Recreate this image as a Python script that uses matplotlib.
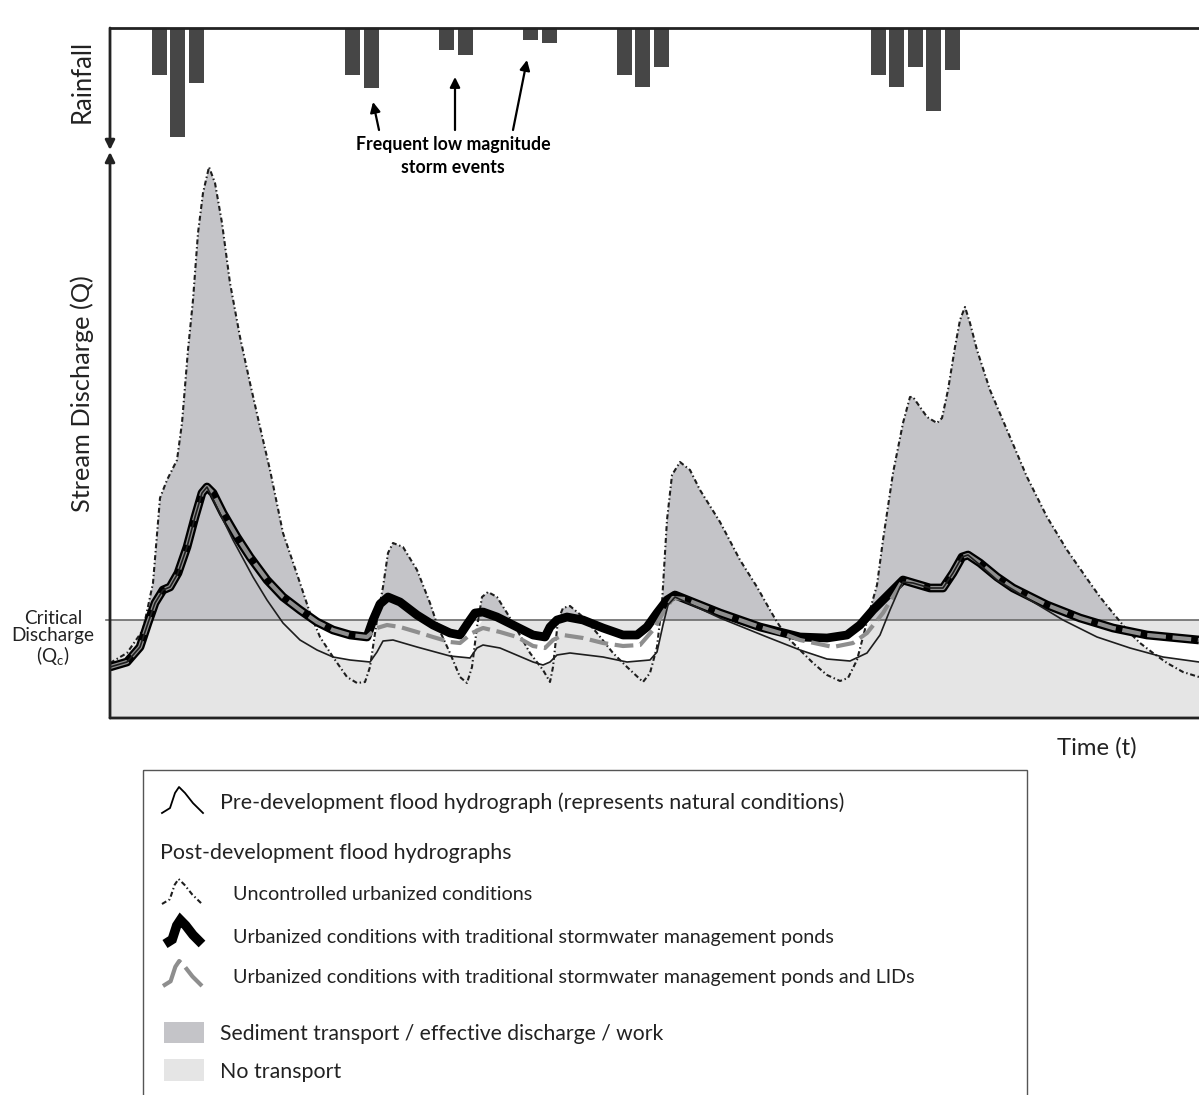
import numpy as np
import matplotlib
matplotlib.use("Agg")
import matplotlib.pyplot as plt
from matplotlib.patches import Rectangle

plt.rcParams['font.family'] = ['Lato', 'DejaVu Sans']

# ---------------- data ----------------
q_crit = 98  # critical discharge

# rainfall (time of bar, depth)
rain_t = [49, 67.5, 86.5, 242.5, 261, 336.5, 355, 420.5, 439,
          514.5, 532.5, 551.5, 768.5, 786.5, 805.5, 823.5, 842.5]
rain_depth = [47, 109, 55, 47, 60, 22, 27, 12, 15,
              47, 59, 39, 47, 59, 39, 83, 42]

# uncontrolled urbanized conditions
t_unc = [0, 17, 33, 43, 50, 57, 63, 67, 72, 78, 83, 88, 93, 99, 105, 112, 120, 130, 140, 150,
         160, 173, 190, 200, 210, 223, 237, 247, 255, 260, 267, 273, 278, 283, 293, 307, 320, 328, 340, 350,
         357, 362, 367, 372, 378, 387, 397, 407, 420, 433, 440, 443, 448, 453, 460, 473, 487, 503, 517, 533,
         540, 547, 552, 555, 557, 562, 570, 580, 590, 610, 630, 647, 660, 667, 677, 690, 703, 717, 730, 738,
         747, 753, 760, 767, 773, 783, 793, 800, 803, 817, 827, 832, 838, 845, 850, 855, 860, 867, 880, 897,
         917, 937, 957, 980, 990, 1003, 1017, 1030, 1043, 1057, 1073, 1089]
q_unc = [55, 65, 88, 135, 220, 238, 250, 258, 295, 368, 418, 485, 525, 551, 535, 495, 435, 381, 335, 291,
         248, 185, 135, 105, 81, 61, 41, 35, 36, 51, 98, 131, 165, 175, 171, 148, 115, 91, 65, 41,
         35, 51, 91, 121, 126, 121, 105, 88, 65, 48, 36, 51, 98, 110, 112, 101, 85, 65, 51, 36,
         45, 71, 115, 165, 198, 243, 256, 248, 228, 196, 158, 131, 108, 96, 81, 68, 55, 43, 37, 40,
         58, 81, 108, 133, 178, 245, 295, 321, 321, 301, 295, 300, 328, 371, 398, 411, 395, 368, 328, 288,
         241, 201, 168, 135, 121, 105, 88, 75, 65, 55, 46, 41]

# urbanized with traditional stormwater management ponds
t_pond = [0, 17, 30, 38, 45, 53, 60, 68, 77, 85, 92, 97, 103, 113, 127, 140, 157, 173, 190, 207,
          223, 240, 257, 263, 270, 278, 290, 307, 323, 340, 350, 358, 365, 373, 387, 407, 423, 435, 440, 447,
          457, 473, 493, 513, 527, 537, 547, 557, 565, 575, 610, 650, 690, 717, 737, 750, 763, 780, 793, 803,
          820, 833, 843, 852, 858, 870, 887, 903, 937, 970, 1003, 1037, 1089]
q_pond = [51, 56, 71, 95, 115, 128, 131, 145, 171, 201, 225, 231, 225, 205, 181, 161, 138, 121, 108, 96,
          88, 83, 81, 98, 114, 121, 116, 103, 93, 85, 83, 95, 105, 106, 101, 91, 83, 81, 91, 98,
          101, 98, 90, 83, 83, 91, 105, 118, 123, 119, 105, 91, 81, 80, 83, 93, 108, 125, 138, 135,
          130, 130, 145, 161, 163, 155, 141, 130, 113, 100, 90, 83, 78]

# urbanized with ponds and LIDs
t_lid = [0, 17, 30, 38, 45, 53, 60, 68, 77, 85, 92, 97, 103, 113, 127, 140, 157, 173, 190, 207,
         223, 240, 257, 267, 277, 290, 307, 323, 340, 350, 362, 373, 390, 407, 423, 435, 443, 453, 473, 493,
         513, 530, 543, 553, 563, 575, 610, 650, 677, 690, 723, 743, 757, 773, 787, 793, 803, 820, 833, 843,
         852, 858, 870, 887, 903, 937, 970, 1003, 1037, 1089]
q_lid = [51, 56, 71, 95, 115, 128, 131, 145, 171, 201, 225, 231, 225, 205, 181, 161, 138, 121, 108, 96,
         88, 83, 81, 90, 93, 91, 86, 81, 76, 75, 85, 90, 86, 81, 72, 70, 78, 83, 80, 75,
         72, 73, 88, 105, 120, 119, 105, 91, 83, 78, 71, 75, 85, 105, 128, 138, 135, 130, 130, 145,
         161, 163, 155, 141, 130, 113, 100, 90, 83, 78]

# pre-development (natural conditions)
t_pre = [0, 17, 30, 38, 45, 53, 60, 68, 77, 85, 92, 97, 123, 143, 157, 173, 190, 207, 223, 240,
         260, 267, 273, 283, 307, 340, 360, 367, 373, 390, 423, 433, 440, 447, 460, 493, 517, 540, 547, 553,
         558, 565, 610, 657, 690, 717, 740, 757, 770, 780, 790, 793, 803, 820, 833, 843, 852, 858, 870, 887,
         920, 953, 987, 1020, 1053, 1089]
q_pre = [51, 56, 71, 95, 115, 128, 131, 145, 171, 201, 225, 231, 178, 141, 118, 95, 78, 68, 61, 58,
         56, 66, 77, 78, 71, 62, 60, 70, 73, 70, 56, 53, 56, 63, 65, 61, 56, 58, 66, 93,
         113, 121, 100, 81, 68, 59, 57, 65, 83, 108, 131, 136, 135, 130, 130, 145, 161, 163, 153, 138,
         118, 98, 81, 70, 61, 56]

# legend key shape (generic hydrograph glyph)
key_x = [0, 0.195, 0.317, 0.415, 0.561, 0.756, 1.0]
key_y = [0, 0.19, 0.77, 1.0, 0.77, 0.38, 0.0]

legend_labels = [
    "Pre-development flood hydrograph (represents natural conditions)",
    "Post-development flood hydrographs",
    "Uncontrolled urbanized conditions",
    "Urbanized conditions with traditional stormwater management ponds",
    "Urbanized conditions with traditional stormwater management ponds and LIDs",
    "Sediment transport / effective discharge / work",
    "No transport",
]

# ---------------- style ----------------
C_MID = '#c4c4c8'
C_LIGHT = '#e5e5e5'
C_BAR = '#464646'
C_LINE = '#1e1e1e'
C_LID = '#8e8e8e'
C_TXT = '#222222'

W, H = 1199, 1095
fig = plt.figure(figsize=(W / 100, H / 100), dpi=100)
fig.patch.set_facecolor('white')

def fx(px):
    return px / W

def fy(py):
    return 1 - py / H

# ---------------- main axes ----------------
ax = fig.add_axes([fx(110), fy(718), fx(1199) - fx(110), fy(152) - fy(718)])
ax.set_xlim(0, 1089)
ax.set_ylim(0, 566)
ax.set_xticks([]); ax.set_yticks([])
for s in ax.spines.values():
    s.set_visible(False)

t_unc_a = np.array(t_unc, float); q_unc_a = np.array(q_unc, float)

ax.axhspan(0, q_crit, color=C_LIGHT, lw=0, zorder=0.5)
clip_rect = Rectangle((0, 0), 1089, q_crit, transform=ax.transData)
polys = ax.fill(np.r_[t_pond, t_pre[::-1]], np.r_[q_pond, q_pre[::-1]],
                color='white', lw=0, zorder=1)
for p in polys:
    p.set_clip_path(clip_rect)
ax.fill_between(t_unc_a, 0, np.minimum(q_unc_a, q_crit), color=C_LIGHT, lw=0, zorder=1.5)
ax.fill_between(t_unc_a, q_crit, q_unc_a, where=q_unc_a > q_crit, interpolate=True,
                color=C_MID, lw=0, zorder=2)

ax.plot([-4, 1089], [q_crit, q_crit], color='#6a6a6a', lw=1.2, zorder=3, clip_on=False)

ax.plot(t_unc, q_unc, color=C_LINE, lw=1.5, ls=(0, (2.4, 1.3, 0.7, 1.3)), zorder=4)
ax.plot(t_pond, q_pond, color='black', lw=6.3, solid_joinstyle='round',
        solid_capstyle='butt', zorder=5)
ax.plot(t_lid, q_lid, color=C_LID, lw=3.0, ls=(0, (4.5, 1.6)), dash_joinstyle='round',
        zorder=6)
ax.plot(t_pre, q_pre, color=C_LINE, lw=1.2, solid_joinstyle='round', zorder=7)

arrow_kw = dict(arrowstyle='-|>', lw=2.0, color='#222222', mutation_scale=14,
                shrinkA=0, shrinkB=0)
ax.annotate('', xy=(0, 1.0), xytext=(0, 0), xycoords='axes fraction',
            arrowprops=arrow_kw, annotation_clip=False, zorder=8)
ax.annotate('', xy=(1.012, 0), xytext=(0, 0), xycoords='axes fraction',
            arrowprops=arrow_kw, annotation_clip=False, zorder=8)

# ---------------- rainfall axes ----------------
axr = fig.add_axes([fx(110), fy(150), fx(1199) - fx(110), fy(28) - fy(150)])
axr.set_xlim(0, 1089)
axr.set_ylim(122, 0)
axr.set_xticks([]); axr.set_yticks([])
axr.patch.set_alpha(0)
for k, s in axr.spines.items():
    s.set_visible(k == 'top')
axr.spines['top'].set_linewidth(2.0)
axr.spines['top'].set_color('#222222')
axr.bar(rain_t, rain_depth, width=15, align='center', color=C_BAR, lw=0)
axr.annotate('', xy=(0, 0), xytext=(0, 1.0), xycoords='axes fraction',
             arrowprops=arrow_kw, annotation_clip=False)

ann_kw = dict(arrowstyle='-|>', lw=1.6, color='black', mutation_scale=15, shrinkA=0, shrinkB=0)
for head, tail in [((263, 74), (269, 102)), ((345, 49), (345, 102)), ((417, 32), (403, 102))]:
    axr.annotate('', xy=head, xytext=tail, arrowprops=ann_kw, annotation_clip=False)
axr.text(343, 128, "Frequent low magnitude\nstorm events", ha='center', va='center',
         fontsize=12.8, fontweight='bold', linespacing=1.4, clip_on=False)

# ---------------- labels ----------------
fig.text(fx(82), fy(81), "Rainfall", rotation=90, ha='center', va='center',
         fontsize=18.4, color=C_TXT)
fig.text(fx(82), fy(394), "Stream Discharge (Q)", rotation=90, ha='center', va='center',
         fontsize=18.3, color=C_TXT)
fig.text(fx(53), fy(639), "Critical\nDischarge\n(Q$_\\mathregular{c}$)", ha='center', va='center',
         fontsize=13.6, linespacing=1.05, color=C_TXT)
fig.text(fx(1097), fy(748), "Time (t)", ha='center', va='center', fontsize=17.2, color=C_TXT)

# ---------------- legend ----------------
axl = fig.add_axes([0, 0, 1, 1], zorder=10)
axl.set_xlim(0, W); axl.set_ylim(H, 0)
axl.axis('off')
axl.patch.set_alpha(0)
axl.add_patch(Rectangle((143, 770), 884, 400, fill=False, edgecolor='#555555', lw=1.0))

kx = np.array(key_x); ky = np.array(key_y)
axl.plot(162 + 41 * kx, 813 - 26 * ky, color='black', lw=1.3)
axl.plot(162 + 40 * kx, 904 - 25 * ky, color=C_LINE, lw=1.5, ls=(0, (2.4, 1.3, 0.7, 1.3)))
axl.plot(165 + 37 * kx, 944 - 24 * ky, color='black', lw=6.8, solid_joinstyle='miter',
         solid_capstyle='butt')
axl.plot(163 + 39 * kx, 986 - 25 * ky, color=C_LID, lw=3.0, ls=(0, (8, 1.6)),
         dash_capstyle='butt')
axl.add_patch(Rectangle((164, 1022), 40, 21, color=C_MID, lw=0))
axl.add_patch(Rectangle((164, 1059), 40, 22, color=C_LIGHT, lw=0))

leg_pos = [(220, 803), (160, 853), (233, 895), (233, 937), (233, 978), (220, 1034), (220, 1072)]
leg_size = [15.4, 15.4, 14.2, 14.2, 14.2, 15.2, 15.4]
for (x, y), lab, fs in zip(leg_pos, legend_labels, leg_size):
    axl.text(x, y, lab, ha='left', va='center', fontsize=fs, color=C_TXT)

fig.savefig('out.png', dpi=100, facecolor='white')
